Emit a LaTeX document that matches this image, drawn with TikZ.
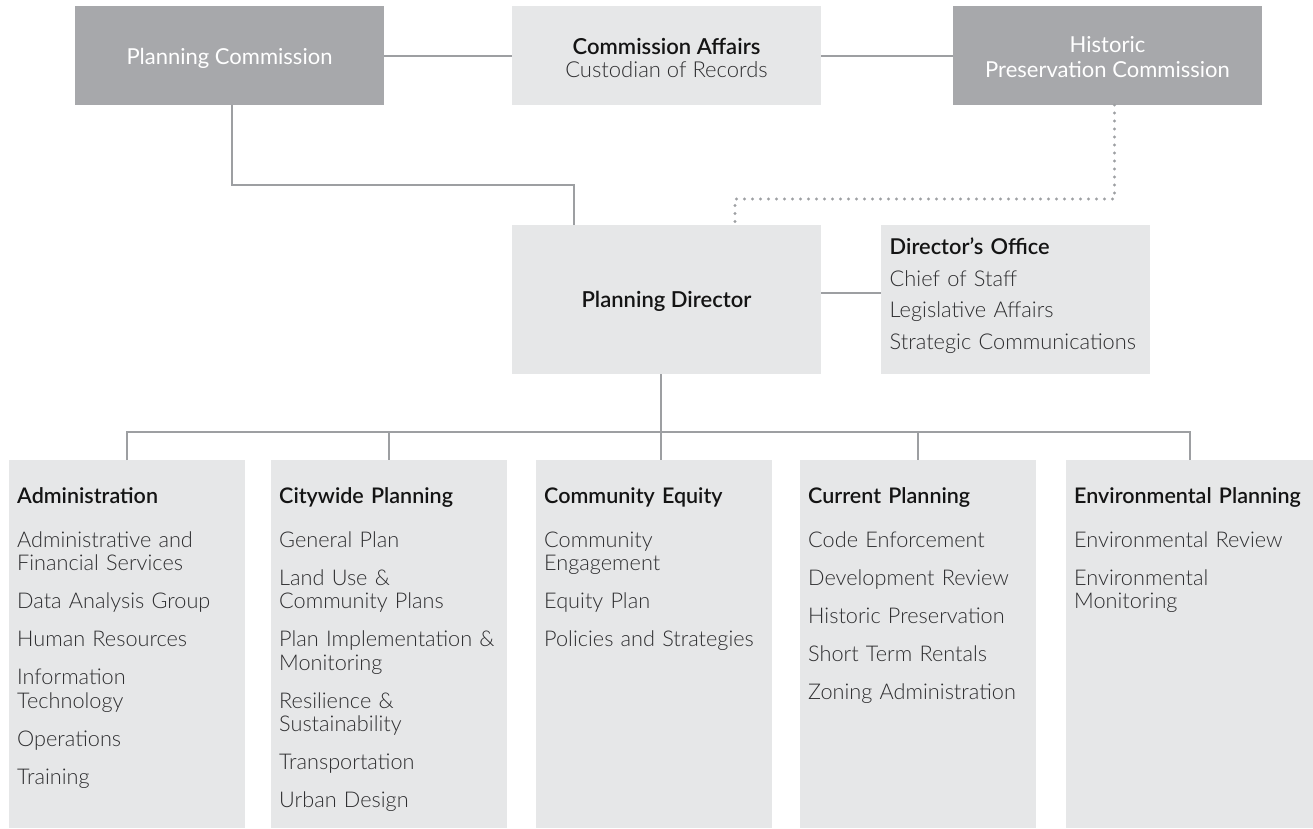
\documentclass[tikz,border=0pt]{standalone}
\usepackage{fontspec}
\IfFontExistsTF{Lato}{\setmainfont{Lato}}{\setmainfont{Liberation Sans}}
\IfFontExistsTF{Lato Light}{\newfontfamily\lightf{Lato Light}}{\newcommand\lightf{\normalfont}}
\IfFontExistsTF{Lato Semibold}{\newfontfamily\semif{Lato Semibold}}{\newcommand\semif{\bfseries}}
\definecolor{darkbox}{HTML}{A7A8AB}
\definecolor{lightbox}{HTML}{E6E7E8}
\definecolor{linec}{HTML}{9D9FA2}
\definecolor{bodytext}{HTML}{2E2E30}
\definecolor{headtext}{HTML}{141414}
\begin{document}
\begin{tikzpicture}[x=1pt,y=1pt,
  box/.style={rectangle, inner sep=0pt, outer sep=0pt, draw=none},
  darkb/.style={box, fill=darkbox},
  lightb/.style={box, fill=lightbox},
  lbl/.style={inner sep=0pt, outer sep=0pt, align=center},
  conn/.style={draw=linec, line width=2pt},
  dots/.style={draw=linec, line width=3.2pt, line cap=round, dash pattern=on 0pt off 8pt},
  coltext/.style={anchor=base west, inner sep=0pt, text width=245pt, align=left, text=bodytext, font=\lightf\fontsize{21.7}{23.5}\selectfont}
]
\useasboundingbox (0,0) rectangle (1313,-828);

% top row
\node[darkb, minimum width=309pt, minimum height=99pt] (pc) at (229.5,-55.5) {};
\node[lbl, anchor=base, text=white, font=\fontsize{22}{26}\selectfont] (pct) at ([yshift=-8.5pt]pc.center) {Planning Commission};
\node[lightb, minimum width=309pt, minimum height=99pt] (ca) at (666.5,-55.5) {};
\node[lbl, text=bodytext, font=\fontsize{22}{23}\selectfont] (cat) at ([yshift=-2pt]ca.center) {{\semif\color{headtext}Commission Affairs}\\{\lightf Custodian of Records}};
\node[darkb, minimum width=309pt, minimum height=99pt] (hpc) at (1107.5,-55.5) {};
\node[lbl, text=white, font=\fontsize{22}{25}\selectfont] (hpct) at ([yshift=-2pt]hpc.center) {Historic\\Preservation Commission};

% middle row
\node[lightb, minimum width=309pt, minimum height=149pt] (pd) at (666.5,-299.5) {};
\node[lbl, anchor=base, text=headtext, font=\semif\fontsize{22}{26}\selectfont] (pdt) at ([yshift=-8pt]pd.center) {Planning Director};
\node[lightb, minimum width=269pt, minimum height=149pt] (do) at (1015.5,-299.5) {};
\node[anchor=base west, inner sep=0pt, text width=262pt, align=left, text=bodytext, font=\lightf\fontsize{21.8}{31.5}\selectfont] (dot) at ([xshift=8.5pt, yshift=-29.5pt]do.north west) {{\semif\color{headtext}Director’s Office}\\Chief of Staff\\Legislative Affairs\\Strategic Communications};

% bottom row
\node[lightb, minimum width=236pt, minimum height=368pt] (admin) at (127,-644) {};
\node[lightb, minimum width=236pt, minimum height=368pt] (city) at (389,-644) {};
\node[lightb, minimum width=236pt, minimum height=368pt] (ce) at (654,-644) {};
\node[lightb, minimum width=236pt, minimum height=368pt] (cp) at (918,-644) {};
\node[lightb, minimum width=247pt, minimum height=368pt] (env) at (1189.5,-644) {};

\newcommand\hdr[1]{{\semif\fontsize{21.5}{23.5}\selectfont\color{headtext}#1}}
\node[coltext] (admint) at ([xshift=8pt, yshift=-43pt]admin.north west) {\hdr{Administration}\\[20.5pt]Administrative and\\Financial Services\\[14.5pt]Data Analysis Group\\[14.5pt]Human Resources\\[14.5pt]Information\\Technology\\[14.5pt]Operations\\[14.5pt]Training};
\node[coltext] (cityt) at ([xshift=8pt, yshift=-43pt]city.north west) {\hdr{Citywide Planning}\\[20.5pt]General Plan\\[14.5pt]Land Use \&\\Community Plans\\[14.5pt]Plan Implementation \&\\Monitoring\\[14.5pt]Resilience \&\\Sustainability\\[14.5pt]Transportation\\[14.5pt]Urban Design};
\node[coltext] (cet) at ([xshift=8pt, yshift=-43pt]ce.north west) {\hdr{Community Equity}\\[20.5pt]Community\\Engagement\\[14.5pt]Equity Plan\\[14.5pt]Policies and Strategies};
\node[coltext] (cpt) at ([xshift=8pt, yshift=-43pt]cp.north west) {\hdr{Current Planning}\\[20.5pt]Code Enforcement\\[14.5pt]Development Review\\[14.5pt]Historic Preservation\\[14.5pt]Short Term Rentals\\[14.5pt]Zoning Administration};
\node[coltext] (envt) at ([xshift=8pt, yshift=-43pt]env.north west) {\hdr{Environmental Planning}\\[20.5pt]Environmental Review\\[14.5pt]Environmental\\Monitoring};

% connectors
\draw[conn] (pc.east) -- (ca.west);
\draw[conn] (ca.east) -- (hpc.west);
\coordinate (pcj) at (574,-185);
\draw[conn] ([xshift=2.5pt]pc.south) |- (pcj) -- (pcj |- pd.north);
\coordinate (hj) at (735,-199);
\draw[dots] ([xshift=7pt]hpc.south) |- (hj) -- (hj |- pd.north);
\draw[conn] ([yshift=6.5pt]pd.east) -- ([yshift=6.5pt]do.west);
\coordinate (bus) at (661,-432);
\draw[conn] (bus |- pd.south) -- (bus);
\draw[conn] (admin.north) -- (admin.north |- bus) -- (env.north |- bus) -- (env.north);
\draw[conn] (city.north |- bus) -- (city.north);
\draw[conn] (bus) -- (bus |- ce.north);
\draw[conn] (cp.north |- bus) -- (cp.north);
\end{tikzpicture}
\end{document}
